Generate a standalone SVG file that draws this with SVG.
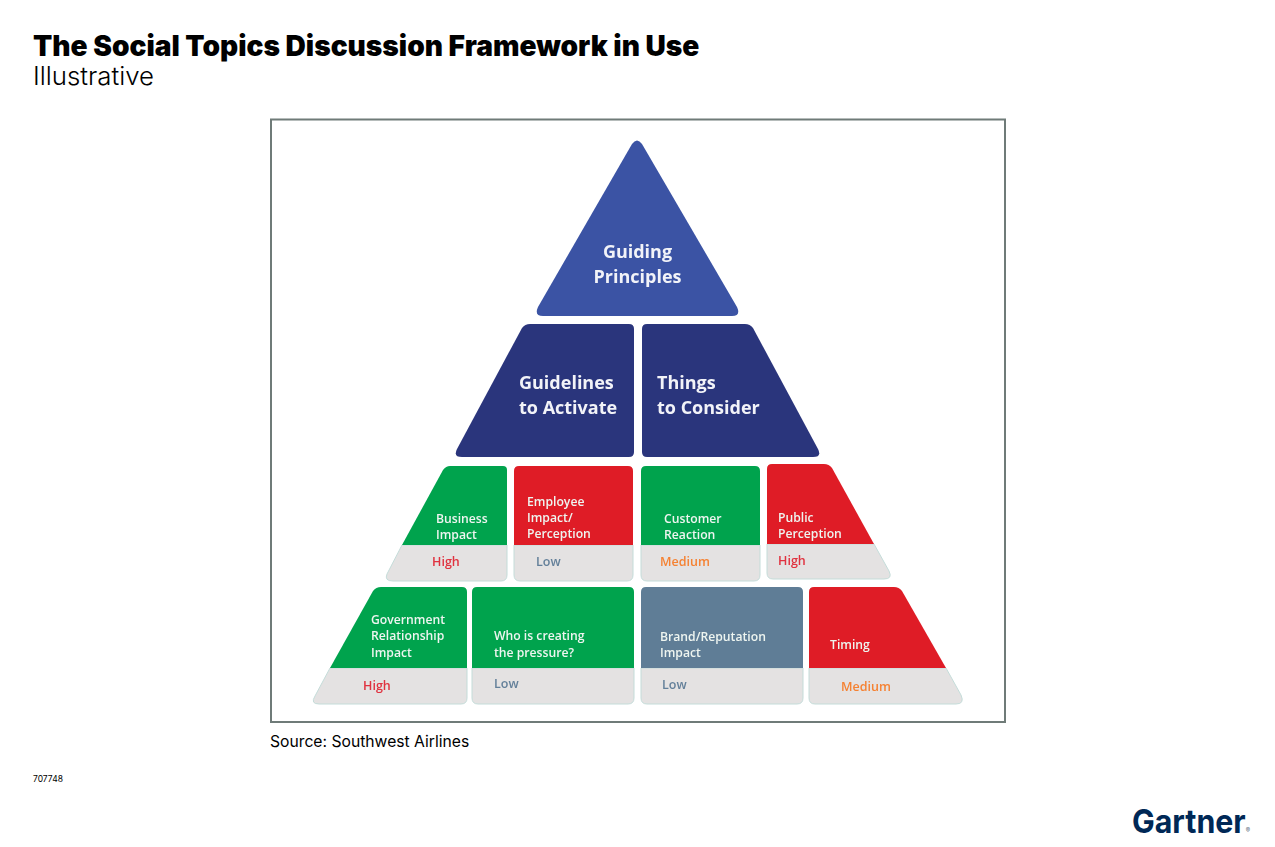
<svg xmlns="http://www.w3.org/2000/svg" width="1275" height="847" viewBox="0 0 1275 847">
<style>
.title{font-family:Inter,"Liberation Sans",sans-serif;font-weight:900;font-size:28.100px;fill:#000}
.sub{font-family:Inter,"Liberation Sans",sans-serif;font-weight:300;font-size:25.800px;fill:#000}
.src{font-family:Inter,"Liberation Sans",sans-serif;font-size:15.700px;fill:#000}
.big{font-family:"Open Sans","Noto Sans",sans-serif;font-weight:700;font-size:18.000px;fill:#f2f3f8}
.sm{font-family:"Open Sans","Noto Sans",sans-serif;font-weight:600;font-size:12.200px;fill:#eef5f0}
.lv{font-family:"Open Sans","Noto Sans",sans-serif;font-weight:600;font-size:12.500px}
.g{fill:#00a34e}.r{fill:#df1c26}.s{fill:#5f7d96}
.grey{fill:#e4e2e2;stroke:#c4dcd9;stroke-width:1}
.hi{fill:#e0323f}.lo{fill:#64809a}.me{fill:#f58233}
</style>
<defs><filter id="soft" x="-5%" y="-5%" width="110%" height="110%"><feGaussianBlur stdDeviation="0.45"/></filter></defs>
<text class="title" x="33" y="56">The Social Topics Discussion Framework in Use</text>
<text class="sub" x="33" y="85">Illustrative</text>
<rect x="271" y="119.500" width="734" height="602.500" fill="#fff" stroke="#6f7b78" stroke-width="2"/>
<g id="connectors"></g>
<g filter="url(#soft)">
<g id="guiding-principles"><path d="M632,144 Q637,137 642,144 L737,307 Q741,316 732,316 L543,316 Q534,316 538,307 Z" fill="#3a53a4"/>
<text class="big" x="637.500" y="258" text-anchor="middle">Guiding</text><text class="big" x="637.500" y="283" text-anchor="middle">Principles</text></g>
<g id="guidelines"><path d="M522,328 Q525,324 530,324 L629,324 Q634,324 634,329 L634,452 Q634,457 629,457 L462,457 Q453,457 457,449 Z" fill="#2b357c"/>
<text class="big" x="519" y="389">Guidelines</text><text class="big" x="519" y="414">to Activate</text></g>
<g id="things"><path d="M642,329 Q642,324 647,324 L745,324 Q750,324 753,328 L818,449 Q822,457 813,457 L647,457 Q642,457 642,452 Z" fill="#2b357c"/>
<text class="big" x="657" y="389">Things</text><text class="big" x="657" y="414">to Consider</text></g>
<g id="business-impact"><path class="grey" d="M402,545 L507,545 L507,575 Q507,581 501,581 L393,581 Q384,581 387,574 Z"/><path class="g" d="M402,545 L443,470 Q446,466 450,466 L503,466 Q507,466 507,470 L507,545 Z"/>
<text class="sm" x="436" y="523">Business</text><text class="sm" x="436" y="539">Impact</text><text class="lv hi" x="432" y="566">High</text></g>
<g id="employee-impact"><path class="grey" d="M514,545 L633,545 L633,575 Q633,581 627,581 L520,581 Q514,581 514,575 Z"/><path class="r" d="M514,545 L514,471 Q514,466 519,466 L628,466 Q633,466 633,471 L633,545 Z"/>
<text class="sm" x="527" y="506">Employee</text><text class="sm" x="527" y="522">Impact/</text><text class="sm" x="527" y="538">Perception</text><text class="lv lo" x="536" y="566">Low</text></g>
<g id="customer-reaction"><path class="grey" d="M641,545 L760,545 L760,575 Q760,581 754,581 L647,581 Q641,581 641,575 Z"/><path class="g" d="M641,545 L641,471 Q641,466 646,466 L755,466 Q760,466 760,471 L760,545 Z"/>
<text class="sm" x="664" y="523">Customer</text><text class="sm" x="664" y="539">Reaction</text><text class="lv me" x="660" y="566">Medium</text></g>
<g id="public-perception"><path class="grey" d="M767,544 L874,544 L889,571 Q893,579 884,579 L773,579 Q767,579 767,573 Z"/><path class="r" d="M767,544 L767,469 Q767,464 772,464 L824,464 Q829,464 832,468 L874,544 Z"/>
<text class="sm" x="778" y="522">Public</text><text class="sm" x="778" y="538">Perception</text><text class="lv hi" x="778" y="565">High</text></g>
<g id="government-relationship"><path class="grey" d="M330,668 L467,668 L467,698 Q467,704 461,704 L319,704 Q310,704 315,696 Z"/><path class="g" d="M330,668 L373,591 Q376,587 381,587 L462,587 Q467,587 467,592 L467,668 Z"/>
<text class="sm" x="371" y="624">Government</text><text class="sm" x="371" y="640">Relationship</text><text class="sm" x="371" y="657">Impact</text><text class="lv hi" x="363" y="690">High</text></g>
<g id="who-is-creating"><path class="grey" d="M472,668 L634,668 L634,698 Q634,704 628,704 L478,704 Q472,704 472,698 Z"/><path class="g" d="M472,668 L472,592 Q472,587 477,587 L629,587 Q634,587 634,592 L634,668 Z"/>
<text class="sm" x="494" y="640">Who is creating</text><text class="sm" x="494" y="657">the pressure?</text><text class="lv lo" x="494" y="688">Low</text></g>
<g id="brand-reputation"><path class="grey" d="M641,668 L803,668 L803,698 Q803,704 797,704 L647,704 Q641,704 641,698 Z"/><path class="s" d="M641,668 L641,592 Q641,587 646,587 L798,587 Q803,587 803,592 L803,668 Z"/>
<text class="sm" x="660" y="641">Brand/Reputation</text><text class="sm" x="660" y="657">Impact</text><text class="lv lo" x="662" y="689">Low</text></g>
<g id="timing"><path class="grey" d="M809,668 L946,668 L961,695 Q965,704 956,704 L815,704 Q809,704 809,698 Z"/><path class="r" d="M809,668 L809,592 Q809,587 814,587 L894,587 Q899,587 902,591 L946,668 Z"/>
<text class="sm" x="830" y="649">Timing</text><text class="lv me" x="841" y="691">Medium</text></g>
</g>
<text class="src" x="270" y="747">Source: Southwest Airlines</text>
<text font-family="Inter,'Liberation Sans',sans-serif" font-size="8.500" x="33" y="782" fill="#000">707748</text>
<g id="logo"><text x="1132" y="833" font-family="Inter,'Liberation Sans',sans-serif" font-weight="700" font-size="33" fill="#002856" textLength="118" lengthAdjust="spacingAndGlyphs">Gartner<tspan font-size="7" font-weight="400" fill="#5b6b7c">®</tspan></text></g>
</svg>
